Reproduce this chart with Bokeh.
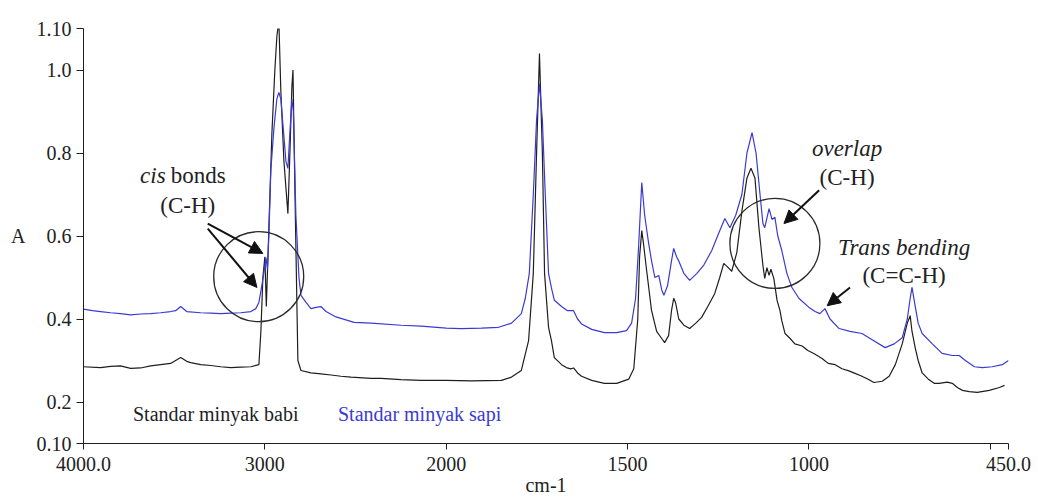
from bokeh.plotting import figure
from bokeh.models import Range1d, FixedTicker, Arrow, NormalHead, ColumnDataSource
from bokeh.core.properties import value
from bokeh.embed import file_html
from bokeh.resources import INLINE

# ---------------- data (wavenumber cm-1, absorbance) ----------------
wn_babi = [4000, 3906, 3850, 3796, 3740, 3685, 3630, 3575, 3520, 3492, 3464, 3431, 3409, 3354,
           3298, 3243, 3188, 3133, 3077, 3033, 3022, 3011, 3000, 2992, 2983, 2978, 2961, 2945, 2934,
           2923, 2912, 2895, 2873, 2862, 2851, 2845, 2834, 2818, 2801, 2746, 2691, 2635, 2580,
           2525, 2414, 2359, 2249, 2138, 2000, 1931, 1848, 1820, 1793, 1773, 1760, 1751, 1743,
           1735, 1729, 1718, 1710, 1702, 1682, 1669, 1657, 1649, 1638, 1627, 1599, 1564, 1530,
           1497, 1483, 1472, 1467, 1461, 1456, 1448, 1434, 1420, 1406, 1398, 1387, 1379, 1373,
           1368, 1359, 1345, 1329, 1312, 1296, 1279, 1260, 1246, 1235, 1224, 1213, 1199, 1185,
           1171, 1160, 1149, 1138, 1127, 1122, 1116, 1110, 1105, 1097, 1088, 1080, 1075, 1066,
           1052, 1039, 1019, 1003, 983, 964, 947, 928, 909, 890, 873, 854, 837, 821, 798, 779,
           762, 743, 729, 721, 716, 707, 699, 688, 671, 655, 641, 619, 605, 591, 577, 558, 536,
           503, 475, 461, 450]
abs_babi = [0.285, 0.283, 0.286, 0.287, 0.281, 0.282, 0.287, 0.290, 0.293, 0.300, 0.307, 0.298,
            0.295, 0.290, 0.288, 0.285, 0.283, 0.284, 0.285, 0.290, 0.37, 0.50, 0.55, 0.43, 0.55,
            0.62, 0.85, 1.00, 1.08, 1.12, 0.95, 0.78, 0.654, 0.80, 0.96, 1.00, 0.70, 0.30, 0.276,
            0.270, 0.268, 0.265, 0.262, 0.260, 0.257, 0.257, 0.254, 0.252, 0.252, 0.251, 0.252,
            0.260, 0.276, 0.348, 0.51, 0.80, 1.04, 0.80, 0.51, 0.38, 0.348, 0.307, 0.290, 0.283,
            0.280, 0.282, 0.270, 0.262, 0.252, 0.245, 0.245, 0.255, 0.28, 0.40, 0.55, 0.613, 0.58,
            0.52, 0.42, 0.37, 0.353, 0.343, 0.36, 0.42, 0.45, 0.44, 0.40, 0.385, 0.377, 0.39,
            0.404, 0.43, 0.461, 0.50, 0.534, 0.525, 0.515, 0.56, 0.66, 0.74, 0.763, 0.74, 0.62,
            0.529, 0.498, 0.524, 0.505, 0.52, 0.498, 0.445, 0.42, 0.396, 0.365, 0.353, 0.34,
            0.335, 0.324, 0.315, 0.305, 0.293, 0.29, 0.28, 0.275, 0.269, 0.262, 0.255, 0.247,
            0.25, 0.262, 0.29, 0.34, 0.39, 0.408, 0.37, 0.33, 0.30, 0.27, 0.255, 0.245, 0.245,
            0.248, 0.245, 0.235, 0.228, 0.225, 0.223, 0.228, 0.235, 0.24]

wn_sapi = [4000, 3950, 3906, 3850, 3796, 3740, 3685, 3630, 3575, 3520, 3492, 3464, 3431, 3354,
           3298, 3243, 3188, 3133, 3077, 3050, 3033, 3017, 3006, 2994, 2986, 2978, 2967, 2950,
           2934, 2923, 2912, 2895, 2884, 2873, 2862, 2851, 2843, 2829, 2812, 2801, 2773, 2746,
           2718, 2691, 2663, 2608, 2508, 2414, 2249, 2138, 2000, 1959, 1903, 1856, 1820, 1793,
           1782, 1771, 1760, 1751, 1743, 1735, 1727, 1718, 1710, 1702, 1682, 1666, 1649, 1638,
           1627, 1599, 1564, 1530, 1503, 1489, 1478, 1470, 1461, 1453, 1442, 1434, 1425, 1414,
           1406, 1400, 1390, 1379, 1373, 1365, 1359, 1345, 1329, 1309, 1290, 1268, 1252, 1232,
           1218, 1202, 1185, 1171, 1157, 1146, 1135, 1127, 1122, 1110, 1102, 1094, 1086, 1075,
           1061, 1047, 1028, 1000, 983, 970, 956, 942, 917, 887, 854, 826, 790, 765, 743, 729,
           721, 716, 707, 699, 688, 660, 633, 605, 586, 569, 544, 522, 495, 467, 450]
abs_sapi = [0.424, 0.420, 0.418, 0.415, 0.413, 0.410, 0.412, 0.413, 0.415, 0.418, 0.420, 0.430,
            0.418, 0.415, 0.414, 0.413, 0.414, 0.415, 0.418, 0.425, 0.44, 0.48, 0.51, 0.548, 0.52,
            0.60, 0.76, 0.86, 0.93, 0.946, 0.93, 0.84, 0.78, 0.763, 0.85, 0.93, 0.90, 0.65, 0.50,
            0.457, 0.44, 0.425, 0.428, 0.43, 0.418, 0.405, 0.392, 0.390, 0.385, 0.383, 0.378,
            0.377, 0.378, 0.38, 0.39, 0.413, 0.45, 0.51, 0.70, 0.88, 0.967, 0.88, 0.70, 0.51,
            0.475, 0.445, 0.43, 0.42, 0.42, 0.40, 0.388, 0.375, 0.367, 0.367, 0.372, 0.39, 0.45,
            0.57, 0.729, 0.65, 0.582, 0.54, 0.50, 0.505, 0.47, 0.457, 0.48, 0.54, 0.57, 0.55,
            0.54, 0.51, 0.493, 0.51, 0.53, 0.565, 0.60, 0.642, 0.62, 0.65, 0.70, 0.80, 0.849,
            0.80, 0.70, 0.63, 0.620, 0.666, 0.64, 0.645, 0.60, 0.565, 0.51, 0.476, 0.45, 0.428,
            0.418, 0.413, 0.425, 0.40, 0.377, 0.37, 0.365, 0.35, 0.331, 0.34, 0.355, 0.40, 0.45,
            0.476, 0.43, 0.39, 0.365, 0.34, 0.317, 0.312, 0.312, 0.30, 0.285, 0.283, 0.285, 0.29,
            0.30]

x_ticks = [4000, 3000, 2000, 1500, 1000, 500, 450]
x_tick_labels = ["4000.0", "3000", "2000", "1500", "1000", "", "450.0"]
y_ticks = [0.10, 0.2, 0.4, 0.6, 0.8, 1.0, 1.10]
y_tick_labels = ["0.10", "0.2", "0.4", "0.6", "0.8", "1.0", "1.10"]

series_names = ["Standar minyak babi", "Standar minyak sapi"]


def axis_pos(wn):
    """Instrument-style wavenumber axis: half scale above 2000 cm-1."""
    return (4000 - wn) / 2 if wn >= 2000 else 1000 + (2000 - wn)


BLACK = "#1e1e1e"
BLUE = "#3a3ad2"
FONT = "Liberation Serif"

p = figure(width=1038, height=504, output_backend="svg", toolbar_location=None,
           x_range=Range1d(axis_pos(4000), axis_pos(450)), y_range=Range1d(0.10, 1.10),
           min_border_left=83, min_border_right=30, min_border_top=28, min_border_bottom=61,
           background_fill_color="white", border_fill_color="white")
p.outline_line_color = None
p.grid.visible = False

src_b = ColumnDataSource(dict(x=[axis_pos(w) for w in wn_babi], y=abs_babi))
src_s = ColumnDataSource(dict(x=[axis_pos(w) for w in wn_sapi], y=abs_sapi))
p.line("x", "y", source=src_b, line_color=BLACK, line_width=1.2)
p.line("x", "y", source=src_s, line_color=BLUE, line_width=1.2)

# axes
p.xaxis.ticker = FixedTicker(ticks=[axis_pos(t) for t in x_ticks])
p.xaxis.major_label_overrides = {axis_pos(t): lab for t, lab in zip(x_ticks, x_tick_labels)}
p.yaxis.ticker = FixedTicker(ticks=y_ticks)
p.yaxis.major_label_overrides = {t: lab for t, lab in zip(y_ticks, y_tick_labels)}
for ax in (p.xaxis, p.yaxis):
    ax.minor_tick_line_color = None
    ax.major_tick_in = 0
    ax.axis_line_color = BLACK
    ax.major_tick_line_color = BLACK
    ax.major_label_text_font = FONT
    ax.major_label_text_font_size = "20px"
    ax.major_label_text_color = "#222222"
    ax.axis_label_text_font = FONT
    ax.axis_label_text_font_size = "20px"
    ax.axis_label_text_font_style = "normal"
    ax.axis_label_text_color = "#222222"
p.xaxis.major_tick_out = 6
p.xaxis.major_label_standoff = 7
p.xaxis.axis_label = "cm-1"
p.xaxis.axis_label_standoff = 0
p.yaxis.major_tick_out = 7
p.yaxis.major_label_standoff = 5
p.yaxis.axis_label = "A"
p.yaxis.axis_label_orientation = "horizontal"
p.yaxis.axis_label_standoff = 8

# series labels
p.text(x=[axis_pos(3271)], y=[0.172], text=[series_names[0]], text_color=BLACK,
       text_font=value(FONT), text_font_size="20px", text_align="center", text_baseline="middle")
p.text(x=[axis_pos(2597)], y=[0.172], text=[series_names[1]], text_color=BLUE,
       text_font=value(FONT), text_font_size="20px", text_align="left", text_baseline="middle")

# annotations
ann = dict(text_font=value(FONT), text_font_size="23px", text_color="#222222",
           text_baseline="middle")
p.text(x=[axis_pos(3547)], y=[0.746], text=["cis"], text_align="right", text_font_style="italic", **ann)
p.text(x=[axis_pos(3519)], y=[0.746], text=["bonds"], text_align="left", **ann)
p.text(x=[axis_pos(3425)], y=[0.673], text=["(C-H)"], text_align="center", **ann)
p.text(x=[axis_pos(895)], y=[0.811], text=["overlap"], text_align="center", text_font_style="italic", **ann)
p.text(x=[axis_pos(895)], y=[0.741], text=["(C-H)"], text_align="center", **ann)
p.text(x=[axis_pos(738)], y=[0.572], text=["Trans bending"], text_align="center", text_font_style="italic", **ann)
p.text(x=[axis_pos(738)], y=[0.505], text=["(C=C-H)"], text_align="center", **ann)

# circles
p.scatter(x=[axis_pos(3034), axis_pos(1094)], y=[0.502, 0.582], marker="circle", size=90,
          fill_color=None, line_color="#2a2a2a", line_width=1.3)

# arrows
arrows = [((3315, 0.630), (3011, 0.558)),
          ((3315, 0.618), (3044, 0.476)),
          ((972, 0.710), (1069, 0.630)),
          ((887, 0.476), (950, 0.432))]
for (ws, ys), (we, ye) in arrows:
    p.add_layout(Arrow(end=NormalHead(size=13, fill_color="#111111", line_color="#111111"),
                       x_start=axis_pos(ws), y_start=ys, x_end=axis_pos(we), y_end=ye,
                       line_color="#111111", line_width=2))

open("out.html", "w").write(file_html(p, INLINE))
